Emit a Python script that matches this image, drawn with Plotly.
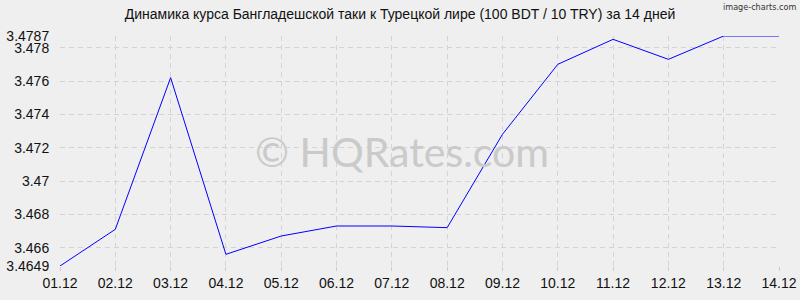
import plotly.graph_objects as go

dates = ["01.12", "02.12", "03.12", "04.12", "05.12", "06.12", "07.12",
         "08.12", "09.12", "10.12", "11.12", "12.12", "13.12", "14.12"]
rates = [3.4649, 3.4671, 3.4762, 3.4656, 3.4667, 3.4673, 3.4673,
         3.4672, 3.4728, 3.4770, 3.4785, 3.4773, 3.4787, 3.4787]
y_ticks = [3.4649, 3.466, 3.468, 3.47, 3.472, 3.474, 3.476, 3.478, 3.4787]
y_tick_labels = ["3.4649", "3.466", "3.468", "3.47", "3.472", "3.474", "3.476", "3.478", "3.4787"]
title = "Динамика курса Бангладешской таки к Турецкой лире (100 BDT / 10 TRY) за 14 дней"

x_idx = list(range(len(dates)))

fig = go.Figure()
fig.add_trace(go.Scatter(x=x_idx, y=rates, mode="lines",
                         line=dict(color="#0000ff", width=1), hoverinfo="skip"))

grid = dict(showgrid=True, gridcolor="#d4d4d4", griddash="5px,4px", gridwidth=1,
            zeroline=False, showline=False, automargin=False)

fig.update_layout(
    width=800, height=300,
    margin=dict(l=60, r=21, t=36, b=34, autoexpand=False),
    paper_bgcolor="#efefef", plot_bgcolor="#efefef",
    showlegend=False,
    font=dict(family="Liberation Sans, Arial, sans-serif", size=14, color="#111111"),
    title=dict(text=title, xref="container", x=0.5, xanchor="center",
               yref="container", y=1, yanchor="top", pad=dict(t=9),
               font=dict(size=14, color="#111111"), automargin=False),
    xaxis=dict(range=[0, len(dates) - 1], tickvals=x_idx, ticktext=dates,
               ticks="outside", ticklen=4, tickcolor="#cccccc",
               tickfont=dict(size=14), **grid),
    yaxis=dict(range=[min(y_ticks), max(y_ticks)], tickvals=y_ticks, ticktext=y_tick_labels,
               ticks="outside", ticklen=7, tickcolor="rgba(0,0,0,0)",
               tickfont=dict(size=14), **grid),
    annotations=[
        dict(text="image-charts.com", xref="paper", yref="paper", x=1, xanchor="right",
             xshift=19, y=1, yanchor="bottom", yshift=22, showarrow=False,
             font=dict(family="DejaVu Sans Condensed, DejaVu Sans", size=9, color="#333333")),
        dict(text="© HQRates.com", xref="paper", yref="paper", x=0.475, xanchor="center",
             y=0.5, yanchor="middle", showarrow=False,
             font=dict(family="Lato, sans-serif", size=41, color="#cacaca")),
    ],
)

fig.write_html("out.html")
